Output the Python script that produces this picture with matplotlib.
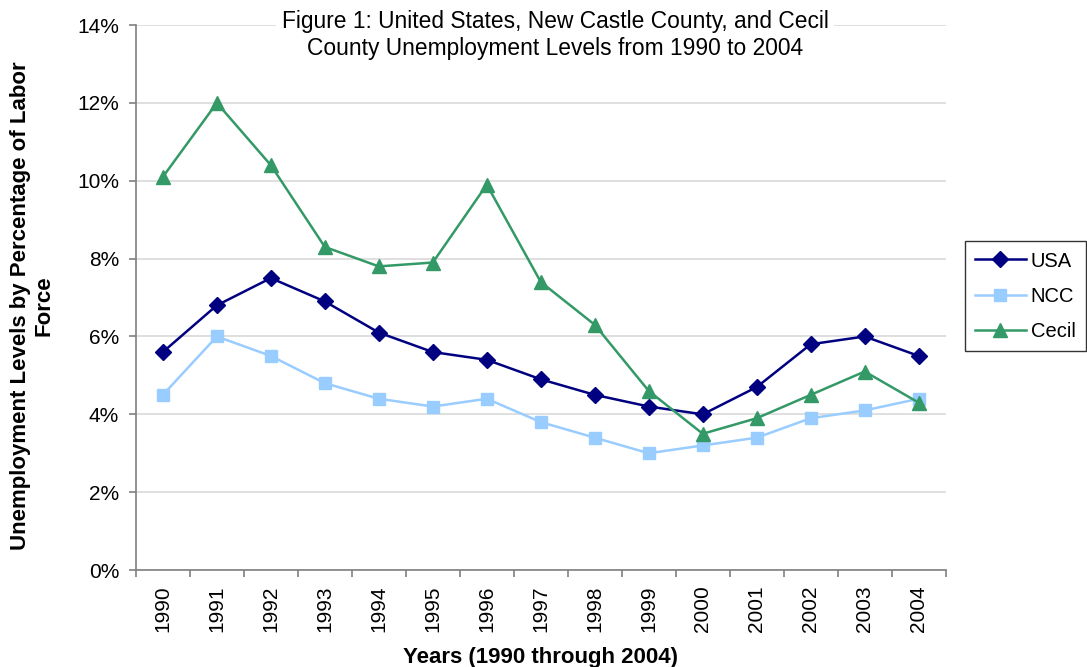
import numpy as np
import matplotlib.pyplot as plt
from matplotlib.ticker import FuncFormatter, FixedLocator

plt.rcParams['font.family'] = ['Liberation Sans', 'DejaVu Sans']

years = [str(y) for y in range(1990, 2005)]
usa = [5.6, 6.8, 7.5, 6.9, 6.1, 5.6, 5.4, 4.9, 4.5, 4.2, 4.0, 4.7, 5.8, 6.0, 5.5]
ncc = [4.5, 6.0, 5.5, 4.8, 4.4, 4.2, 4.4, 3.8, 3.4, 3.0, 3.2, 3.4, 3.9, 4.1, 4.4]
cecil = [10.1, 12.0, 10.4, 8.3, 7.8, 7.9, 9.9, 7.4, 6.3, 4.6, 3.5, 3.9, 4.5, 5.1, 4.3]

fig = plt.figure(figsize=(10.87, 6.67), dpi=100)
ax = fig.add_axes([0.125, 0.1454, 0.745, 0.817])

x = np.arange(len(years))
ax.plot(x, usa, color='#000080', lw=1.8, marker='D', ms=8, label='USA', zorder=4)
ax.plot(x, ncc, color='#99ccff', lw=1.8, marker='s', ms=9, label='NCC', zorder=3)
ax.plot(x, cecil, color='#339966', lw=1.8, marker='^', ms=10, label='Cecil', zorder=5)

ax.set_xlim(-0.5, len(years) - 0.5)
ax.set_ylim(0, 14)
ax.set_yticks(np.arange(0, 15, 2))
ax.yaxis.set_major_formatter(FuncFormatter(lambda v, p: f'{v:.0f}%'))
ax.yaxis.grid(True, color='#d9d9d9', lw=1.2)
ax.set_axisbelow(True)

ax.set_xticks(x)
ax.set_xticklabels(years, rotation=90, fontsize=15)
ax.xaxis.set_minor_locator(FixedLocator(np.arange(-0.5, len(years), 1)))
ax.tick_params(axis='x', which='major', length=0, pad=11)
ax.tick_params(axis='x', which='minor', length=5, color='#808080', width=1.2)
ax.tick_params(axis='y', length=5, color='#808080', width=1.2, labelsize=15, pad=7)

for s in ['top', 'right']:
    ax.spines[s].set_visible(False)
for s in ['left', 'bottom']:
    ax.spines[s].set_color('#808080')
    ax.spines[s].set_linewidth(1.2)

ax.set_xlabel('Years (1990 through 2004)', fontsize=16, fontweight='bold')
ax.xaxis.set_label_coords(0.5, -0.142)
ax.set_ylabel('Unemployment Levels by Percentage of Labor\nForce', fontsize=16,
              fontweight='bold', linespacing=1.15)
ax.yaxis.set_label_coords(-0.101, 0.485)

ax.text(0.518, 0.981, 'Figure 1: United States, New Castle County, and Cecil\nCounty Unemployment Levels from 1990 to 2004',
        transform=ax.transAxes, ha='center', va='center', fontsize=16.4, linespacing=1.22,
        bbox=dict(facecolor='white', edgecolor='none', pad=4), zorder=6)

leg = fig.legend(loc='center left', bbox_to_anchor=(0.888, 0.556), fontsize=14.5,
                 frameon=True, fancybox=False, edgecolor='black', handlelength=2.5,
                 borderpad=0.5, labelspacing=0.8, handletextpad=0.25, borderaxespad=0)
leg.get_frame().set_linewidth(1.0)

fig.savefig('out.png', dpi=100)
